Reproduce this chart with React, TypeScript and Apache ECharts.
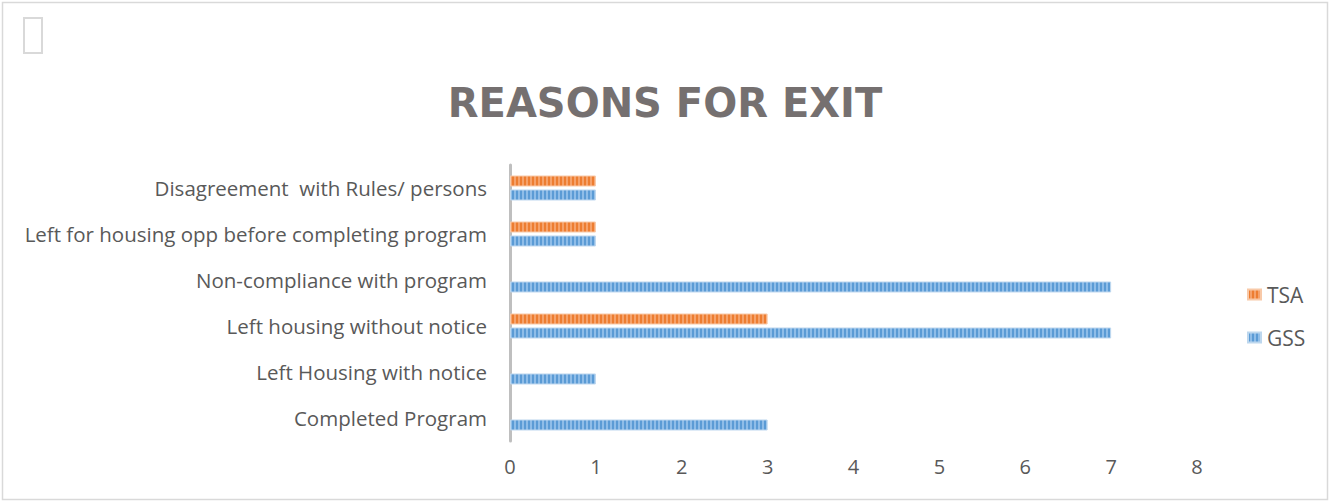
import React, { useEffect, useRef } from "react";
import * as echarts from "echarts";

const categories = [
  "Completed Program",
  "Left Housing with notice",
  "Left housing without notice",
  "Non-compliance with program",
  "Left for housing opp before completing program",
  "Disagreement  with Rules/ persons",
];
const tsaValues = [0, 0, 3, 0, 1, 1];
const gssValues = [3, 1, 7, 7, 1, 1];
const xTicks = [0, 1, 2, 3, 4, 5, 6, 7, 8];

function stripe(dark: string, light: string) {
  const c = document.createElement("canvas");
  c.width = 4;
  c.height = 4;
  const ctx = c.getContext("2d")!;
  ctx.fillStyle = light;
  ctx.fillRect(0, 0, 4, 4);
  ctx.fillStyle = dark;
  ctx.fillRect(0, 0, 2, 4);
  return { image: c, repeat: "repeat" } as any;
}

const hideZero = (arr: number[]) => arr.map((v) => (v === 0 ? "-" : v));

export default function App() {
  const ref = useRef<HTMLDivElement>(null);
  useEffect(() => {
    document.body.style.margin = "0";
    const chart = echarts.init(ref.current!, null, { renderer: "svg" });
    const orange = stripe("#ED7D31", "#F5A26B");
    const blue = stripe("#5B9BD5", "#8FBDE8");
    chart.setOption({
      animation: false,
      backgroundColor: "#fff",
      title: {
        text: "REASONS FOR EXIT",
        left: "center",
        top: 78,
        textStyle: {
          fontFamily: "DejaVu Sans",
          fontWeight: "bold",
          fontSize: 40,
          color: "#757070",
        },
      },
      legend: {
        orient: "vertical",
        left: 1242,
        top: 279,
        itemGap: 22,
        itemWidth: 13,
        itemHeight: 10,
        icon: "rect",
        data: ["TSA", "GSS"],
        textStyle: { fontFamily: "Open Sans", fontSize: 21, color: "#595959", padding: [0, 0, 0, 1] },
      },
      grid: { left: 510, right: 133, top: 165, bottom: 62, containLabel: false },
      xAxis: {
        type: "value",
        min: 0,
        max: 8,
        interval: 1,
        axisLine: { show: false },
        axisTick: { show: false },
        splitLine: { show: false },
        axisLabel: {
          margin: 15,
          fontFamily: "Open Sans",
          fontSize: 20,
          color: "#595959",
          formatter: (v: number) => (xTicks.includes(v) ? String(v) : ""),
        },
      },
      yAxis: {
        type: "category",
        data: categories,
        axisLine: { show: true, lineStyle: { color: "#BFBFBF", width: 3 } },
        axisTick: { show: false },
        axisLabel: {
          margin: 23,
          fontFamily: "Open Sans",
          fontSize: 20.5,
          color: "#595959",
        },
      },
      series: [
        {
          name: "TSA",
          type: "bar",
          data: hideZero(tsaValues),
          barWidth: 11,
          barGap: "27%",
          itemStyle: { color: orange, borderColor: "#F8C9A8", borderWidth: 1 },
        },
        {
          name: "GSS",
          type: "bar",
          data: hideZero(gssValues),
          barWidth: 11,
          barGap: "27%",
          itemStyle: { color: blue, borderColor: "#BDD7EE", borderWidth: 1 },
        },
      ],
      graphic: [
        {
          type: "rect",
          shape: { x: 2.5, y: 2.5, width: 1325, height: 497 },
          style: { fill: "none", stroke: "#D9D9D9", lineWidth: 1.5 },
          silent: true,
        },
        {
          type: "rect",
          shape: { x: 24, y: 18, width: 18, height: 35 },
          style: { fill: "none", stroke: "#D9D9D9", lineWidth: 2 },
          silent: true,
        },
      ],
    });
    return () => chart.dispose();
  }, []);
  return <div ref={ref} style={{ width: 1330, height: 503 }} />;
}
